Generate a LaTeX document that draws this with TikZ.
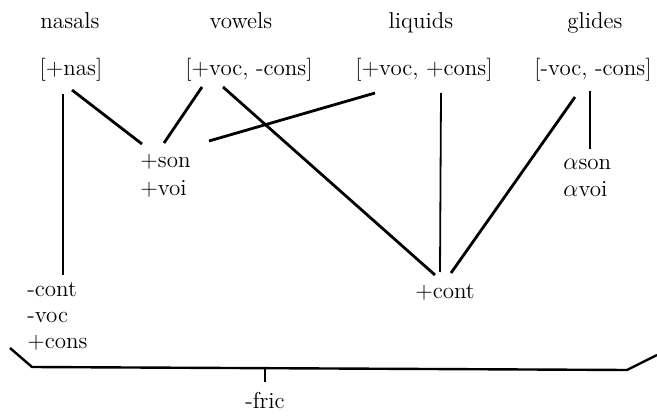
\documentclass[tikz,border=0pt]{standalone}
\usepackage{amsmath}
\tikzset{feat/.style={inner sep=0pt, font=\fontsize{11.5}{14}\selectfont},
  link/.style={line width=1.4pt},
  stem/.style={line width=0.9pt}}

\begin{document}
\begin{tikzpicture}[x=0.5pt,y=-0.5pt]
    \useasboundingbox (0,0) rectangle (657,416);
    % classes
    \node[feat, anchor=base] (nasals) at (70,29) {nasals};
    \node[feat, anchor=base] (vowels) at (241,29) {vowels};
    \node[feat, anchor=base] (liquids) at (421,29) {liquids};
    \node[feat, anchor=base] (glides) at (595,29) {glides};
    % feature bundles
    \node[feat, anchor=base] (nas) at (71,76) {[+nas]};
    \node[feat, anchor=base] (vow) at (249,76) {[+voc, -cons]};
    \node[feat, anchor=base] (liq) at (424,76) {[+voc, +cons]};
    \node[feat, anchor=base] (gli) at (593,76) {[-voc, -cons]};
    \node[feat, anchor=base west] (son) at (140,168) {+son};
    \node[feat, anchor=base west] (voi) at (140,196) {+voi};
    \node[feat, anchor=base west] (ason) at (563,170) {$\alpha$son};
    \node[feat, anchor=base west] (avoi) at (563,197) {$\alpha$voi};
    \node[feat, anchor=base west] (mcont) at (27,296) {-cont};
    \node[feat, anchor=base west] (mvoc) at (27,322) {-voc};
    \node[feat, anchor=base west] (pcons) at (27,348) {+cons};
    \node[feat, anchor=base] (pcont) at (445,299) {+cont};
    \node[feat, anchor=base] (fric) at (265,408) {-fric};
    % line ends
    \coordinate (nas1) at (63,94);
    \coordinate (nas2) at (72,90);
    \coordinate (vow1) at (202,87);
    \coordinate (vow2) at (223,87);
    \coordinate (liq1) at (375,93);
    \coordinate (liq2) at (441,93);
    \coordinate (gli1) at (575,97);
    \coordinate (gli2) at (590,91);
    \coordinate (son1) at (142,144);
    \coordinate (son2) at (164,143);
    \coordinate (son3) at (209,141);
    \coordinate (ason1) at (590,149);
    \coordinate (mcont1) at (63,275);
    \coordinate (pcont1) at (435,275);
    \coordinate (pcont2) at (440,272);
    \coordinate (pcont3) at (451,273);
    \coordinate (brl) at (10,348);
    \coordinate (brb) at (32,367);
    \coordinate (brr) at (627,370);
    \coordinate (bre) at (657,355);
    \coordinate (brm) at (265,368);
    \coordinate (fric1) at (265,382);
    % connectors
    \draw[stem] (nas1) -- (mcont1);
    \draw[link] (nas2) -- (son1);
    \draw[link] (vow1) -- (son2);
    \draw[link] (vow2) -- (pcont1);
    \draw[link] (liq1) -- (son3);
    \draw[stem] (liq2) -- (pcont2);
    \draw[link] (gli1) -- (pcont3);
    \draw[stem] (gli2) -- (ason1);
    \draw[line width=1.2pt] (brl) -- (brb) -- (brr) -- (bre);
    \draw[stem] (brm) -- (fric1);
\end{tikzpicture}
\end{document}
